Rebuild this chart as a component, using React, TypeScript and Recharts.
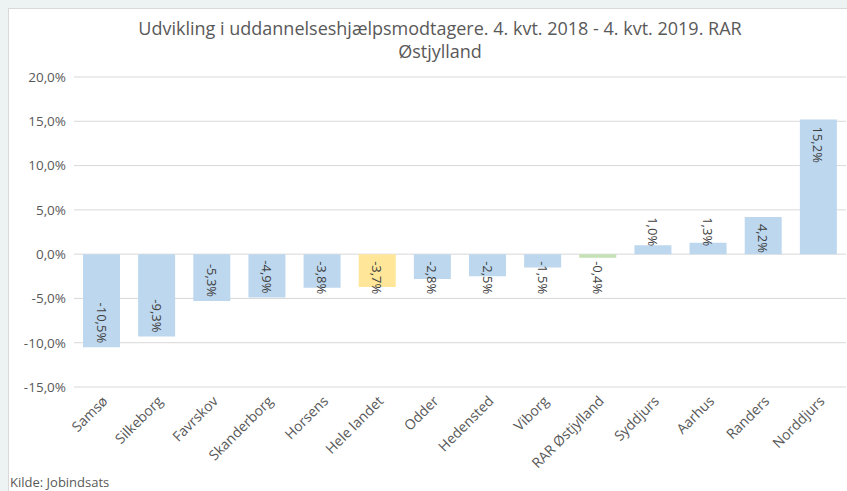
import { Bar, BarChart, CartesianGrid, Cell, XAxis, YAxis } from "recharts";

const kommuner = [
  "Samsø",
  "Silkeborg",
  "Favrskov",
  "Skanderborg",
  "Horsens",
  "Hele landet",
  "Odder",
  "Hedensted",
  "Viborg",
  "RAR Østjylland",
  "Syddjurs",
  "Aarhus",
  "Randers",
  "Norddjurs",
];

const udvikling = [-10.5, -9.3, -5.3, -4.9, -3.8, -3.7, -2.8, -2.5, -1.5, -0.4, 1.0, 1.3, 4.2, 15.2];

const barColors = [
  "#BDD7EE",
  "#BDD7EE",
  "#BDD7EE",
  "#BDD7EE",
  "#BDD7EE",
  "#FFE699",
  "#BDD7EE",
  "#BDD7EE",
  "#BDD7EE",
  "#C5E0B4",
  "#BDD7EE",
  "#BDD7EE",
  "#BDD7EE",
  "#BDD7EE",
];

const yTicks = [-15, -10, -5, 0, 5, 10, 15, 20];

const data = kommuner.map((name, i) => ({ name, value: udvikling[i] }));

const FONT = "'Open Sans', 'Noto Sans', sans-serif";

const pct = (v: number) => v.toFixed(1).replace(".", ",") + "%";

function BarLabel(props: any) {
  const { x, y, width, height, value } = props;
  const top = Math.min(y, y + height);
  const bottom = Math.max(y, y + height);
  const h = bottom - top;
  const text = pct(value);
  const len = text.length * 7;
  const cx = x + width / 2;
  let ty: number;
  let anchor: "start" | "end";
  if (value >= 0) {
    if (h > len + 8) {
      ty = top + 7;
      anchor = "start";
    } else {
      ty = bottom - 8;
      anchor = "end";
    }
  } else {
    if (h > len + 6) {
      ty = bottom - 4;
      anchor = "end";
    } else {
      ty = top + 7;
      anchor = "start";
    }
  }
  return (
    <text
      x={cx}
      y={ty}
      transform={`rotate(90 ${cx} ${ty})`}
      textAnchor={anchor}
      dominantBaseline="central"
      fontSize={13}
      fontFamily={FONT}
      fill="#404040"
    >
      {text}
    </text>
  );
}

function XTick(props: any) {
  const { x, y, payload } = props;
  return (
    <g transform={`translate(${x + 7},${y + 7})`}>
      <text
        transform="rotate(-45)"
        textAnchor="end"
        fontSize={14}
        fontFamily={FONT}
        fill="#595959"
      >
        {payload.value}
      </text>
    </g>
  );
}

export default function App() {
  return (
    <div
      style={{
        position: "absolute",
        left: 0,
        top: 0,
        width: 847,
        height: 491,
        background: "#EDF3F3",
        overflow: "hidden",
        fontFamily: FONT,
      }}
    >
      <div
        style={{
          position: "absolute",
          left: 8,
          top: 8,
          width: 845,
          height: 490,
          background: "#FFFFFF",
          border: "1px solid #D9D9D9",
        }}
      />
      <div
        style={{
          position: "absolute",
          left: 40,
          top: 17,
          width: 800,
          textAlign: "center",
          fontSize: 18,
          lineHeight: "23px",
          color: "#595959",
        }}
      >
        Udvikling i uddannelseshjælpsmodtagere. 4. kvt. 2018 - 4. kvt. 2019. RAR
        <br />
        Østjylland
      </div>
      <div style={{ position: "absolute", left: 0, top: 0 }}>
        <BarChart
          width={847}
          height={491}
          data={data}
          margin={{ top: 77, right: 1, bottom: 44, left: 14 }}
        >
          <CartesianGrid vertical={false} stroke="#D9D9D9" />
          <XAxis
            dataKey="name"
            axisLine={false}
            tickLine={false}
            interval={0}
            height={60}
            tick={<XTick />}
          />
          <YAxis
            domain={[-15, 20]}
            ticks={yTicks}
            axisLine={false}
            tickLine={false}
            width={60}
            tickFormatter={pct}
            tick={{ fontSize: 13.5, fill: "#595959", fontFamily: FONT }}
          />
          <Bar dataKey="value" barSize={37} isAnimationActive={false} label={<BarLabel />}>
            {data.map((d, i) => (
              <Cell key={d.name} fill={barColors[i]} />
            ))}
          </Bar>
        </BarChart>
      </div>
      <div
        style={{
          position: "absolute",
          left: 10,
          top: 473,
          fontSize: 13,
          color: "#595959",
        }}
      >
        Kilde: Jobindsats
      </div>
    </div>
  );
}
